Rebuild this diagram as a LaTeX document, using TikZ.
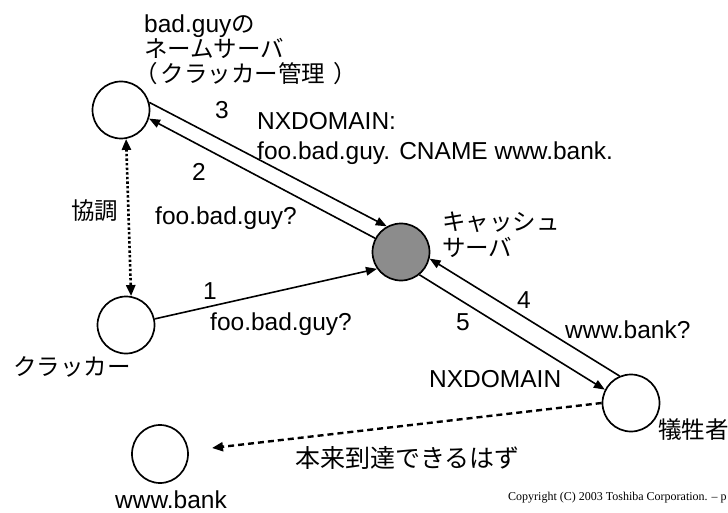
\documentclass[tikz,border=0pt]{standalone}
\usepackage{fontspec}
\setmainfont{Liberation Sans}
\newfontfamily\jpfont{Noto Sans CJK JP}
\newfontfamily\cpfont{Liberation Serif}
\usetikzlibrary{arrows.meta,shapes.geometric}
\tikzset{
  host/.style={circle,draw,line width=1.7pt,minimum size=57pt,inner sep=0pt},
  msg/.style={line width=1.6pt,-{Triangle[length=11pt,width=8.5pt]}},
  lat/.style={font=\fontsize{24.5}{28}\selectfont,inner sep=0pt},
  jp/.style={font=\fontsize{23.5}{27}\selectfont\jpfont,inner sep=0pt},
  jpbig/.style={font=\fontsize{25}{28}\selectfont\jpfont,inner sep=0pt},
  cpy/.style={font=\fontsize{12}{14}\selectfont\cpfont,inner sep=0pt},
}
\begin{document}
\begin{tikzpicture}[x=1pt,y=-1pt]
\clip (0,0) rectangle (728,513);
% hosts
\node[host] (ns) at (121,110) {};
\node[host] (cr) at (126,325) {};
\node[host,fill=black!45] (cache) at (401,252) {};
\node[host] (vi) at (631,403) {};
\node[ellipse,draw,line width=1.7pt,minimum width=56pt,minimum height=58pt,inner sep=0pt] (bank) at (160,454) {};
\coordinate (dashend) at (212,448);
% connectors
\draw[line width=2.6pt,dash pattern=on 2.4pt off 2.2pt,{Triangle[length=11pt,width=9pt]}-{Triangle[length=11pt,width=9pt]}] (ns.-80) -- (cr.80);
\draw[msg] (cr.12) -- (cache.215);
\draw[msg] (ns.15) -- (cache.119);
\draw[msg] (cache.152) -- (ns.-17);
\draw[msg] (vi.113) -- (cache.-13);
\draw[msg] (cache.-51) -- (vi.153);
\draw[line width=2.4pt,dash pattern=on 6pt off 4pt,-{Triangle[length=11pt,width=9pt]}] (vi.180) -- (dashend);
% labels
\node[lat,anchor=base west] (l1a) at (144,33) {bad.guy{\jpfont\fontsize{23.5}{27}\selectfont の}};
\node[jp,anchor=base west] (l1b) at (144,58) {ネームサーバ};
\node[jp,anchor=base west] (l1c) at (144,83) {\kern-10pt（\kern3pt クラッカー管理\kern8pt）};
\node[lat,anchor=base] (n3) at (222,118.5) {3};
\node[lat,anchor=base west] (m3a) at (257,130) {NXDOMAIN:};
\node[lat,anchor=base west] (m3b) at (257,160) {foo.bad.guy. CNAME www.bank.};
\node[lat,anchor=base] (n2) at (199,180.5) {2};
\node[lat,anchor=base west] (m2) at (155,225) {foo.bad.guy?};
\node[jp,anchor=base west] (coop) at (71,219.5) {協調};
\node[jp,anchor=base west] (c1) at (442,230.5) {キャッシュ};
\node[jp,anchor=base west] (c2) at (442,256.5) {サーバ};
\node[lat,anchor=base] (n1) at (210,299) {1};
\node[lat,anchor=base west] (m1) at (210,330) {foo.bad.guy?};
\node[lat,anchor=base] (n4) at (524,308.5) {4};
\node[lat,anchor=base] (n5) at (463,330.5) {5};
\node[lat,anchor=base west] (m4) at (565,338) {www.bank?};
\node[lat,anchor=base west] (m5) at (429,387) {NXDOMAIN};
\node[jp,anchor=base west] (crl) at (13,375.5) {クラッカー};
\node[jp,anchor=base west] (vil) at (658,438.5) {犠牲者};
\node[jpbig,anchor=base west] (should) at (295,467) {本来到達できるはず};
\node[lat,anchor=base west] (bankl) at (115,508) {www.bank};
\node[cpy,anchor=base west] (copy) at (508,500) {Copyright (C) 2003 Toshiba Corporation. – p};
\end{tikzpicture}
\end{document}
